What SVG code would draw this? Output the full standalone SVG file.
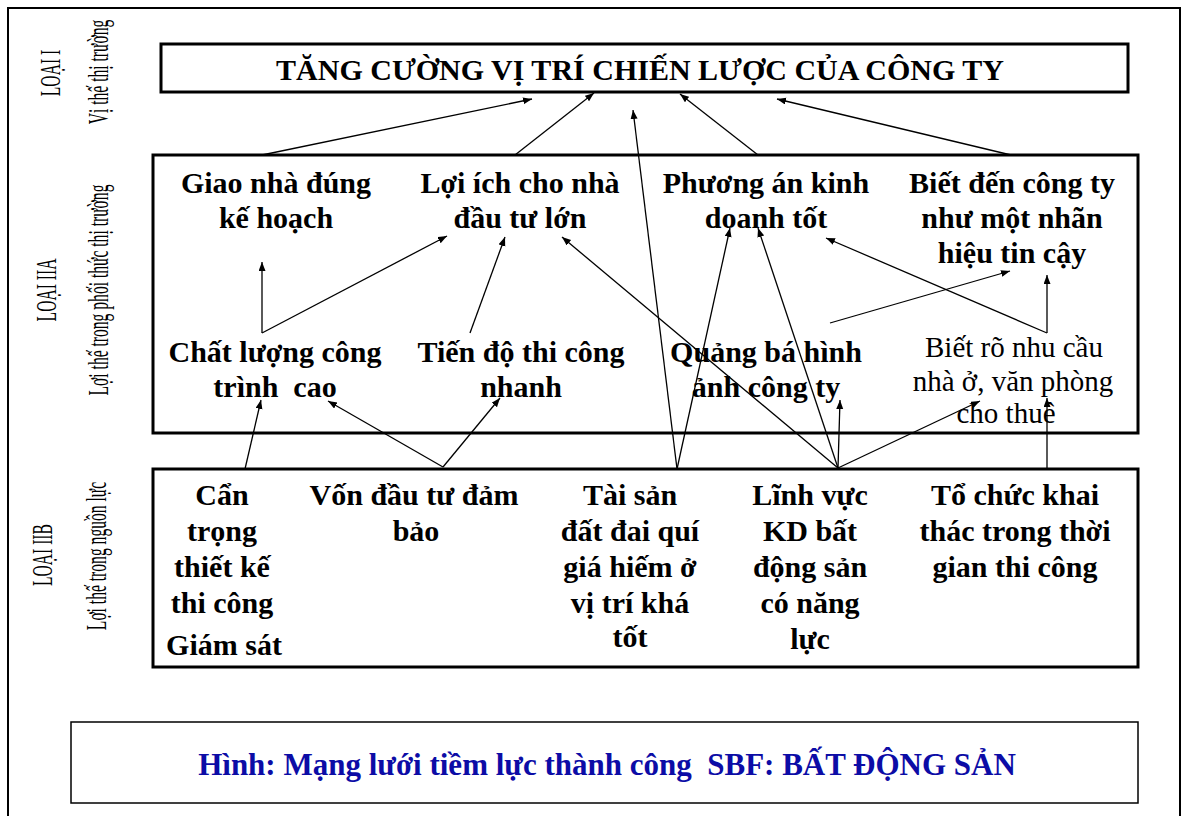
<svg xmlns="http://www.w3.org/2000/svg" width="1185" height="816" viewBox="0 0 1185 816">
  <style>
    .frame { fill: none; stroke: #000; stroke-width: 2; }
    .box { fill: #fff; stroke: #000; stroke-width: 3; }
    .cap-box { fill: #fff; stroke: #000; stroke-width: 1.5; }
    .t { font-family: "Liberation Serif", "Times New Roman", serif; fill: #000; text-anchor: middle; }
    .b { font-weight: bold; font-size: 30px; }
    .r { font-size: 29px; }
    .title { font-size: 30px; font-weight: bold; }
    .side { font-size: 30px; }
    .caption { font-weight: bold; font-size: 31px; fill: #0c0ca6; }
    .conn line { stroke: #000; stroke-width: 1.3; marker-end: url(#arr); }
  </style>
  <defs>
    <marker id="arr" markerUnits="userSpaceOnUse" markerWidth="10" markerHeight="8" refX="9" refY="3.5" orient="auto">
      <path d="M0,0 L9,3.5 L0,7 z" fill="#000"/>
    </marker>
  </defs>

  <rect width="1185" height="816" fill="#fff"/>
  <!-- outer frame, open at the bottom -->
  <path class="frame" d="M8,817 L8,8 L1180,8 L1180,817"/>

  <!-- side labels for the three levels (condensed, read bottom to top) -->
  <g id="labels">
    <text class="t side" transform="translate(60,73) rotate(-90) scale(0.52,1)">LOẠI I</text>
    <text class="t side" transform="translate(108,72) rotate(-90) scale(0.52,1)">Vị thế thị trường</text>
    <text class="t side" transform="translate(56,290) rotate(-90) scale(0.52,1)">LOẠI IIA</text>
    <text class="t side" transform="translate(108,290) rotate(-90) scale(0.52,1)">Lợi thế trong phối thức thị trường</text>
    <text class="t side" transform="translate(52,555) rotate(-90) scale(0.52,1)">LOẠI IIB</text>
    <text class="t side" transform="translate(106,556) rotate(-90) scale(0.52,1)">Lợi thế trong nguồn lực</text>
  </g>

  <!-- level I -->
  <g id="goal">
    <rect class="box" x="161" y="44" width="967" height="48"/>
    <text class="t title" x="640" y="80">TĂNG CƯỜNG VỊ TRÍ CHIẾN LƯỢC CỦA CÔNG TY</text>
  </g>

  <!-- level IIA -->
  <g id="market">
    <rect class="box" x="153" y="155" width="985" height="278"/>
  </g>
  <g id="giao-nha">
    <text class="t b" x="276" y="193">Giao nhà đúng</text>
    <text class="t b" x="276" y="228">kế hoạch</text>
  </g>
  <g id="loi-ich">
    <text class="t b" x="520" y="193">Lợi ích cho nhà</text>
    <text class="t b" x="520" y="228">đầu tư lớn</text>
  </g>
  <g id="phuong-an">
    <text class="t b" x="766" y="193">Phương án kinh</text>
    <text class="t b" x="766" y="228">doanh tốt</text>
  </g>
  <g id="biet-den">
    <text class="t b" x="1012" y="193">Biết đến công ty</text>
    <text class="t b" x="1012" y="228">như một nhãn</text>
    <text class="t b" x="1012" y="263">hiệu tin cậy</text>
  </g>
  <g id="chat-luong">
    <text class="t b" x="275" y="362">Chất lượng công</text>
    <text class="t b" x="275" y="397" xml:space="preserve">trình  cao</text>
  </g>
  <g id="tien-do">
    <text class="t b" x="521" y="362">Tiến độ thi công</text>
    <text class="t b" x="521" y="397">nhanh</text>
  </g>
  <g id="quang-ba">
    <text class="t b" x="766" y="362">Quảng bá hình</text>
    <text class="t b" x="766" y="397">ảnh công ty</text>
  </g>
  <g id="biet-ro">
    <text class="t r" x="1014" y="357">Biết rõ nhu cầu</text>
    <text class="t r" x="1013" y="391">nhà ở, văn phòng</text>
    <text class="t r" x="1006" y="423">cho thuê</text>
  </g>

  <!-- level IIB -->
  <g id="resources">
    <rect class="box" x="153" y="469" width="985" height="198"/>
  </g>
  <g id="can-trong">
    <text class="t b" x="222" y="505">Cẩn</text>
    <text class="t b" x="222" y="541">trọng</text>
    <text class="t b" x="222" y="577">thiết kế</text>
    <text class="t b" x="222" y="613">thi công</text>
    <text class="t b" x="224" y="655">Giám sát</text>
  </g>
  <g id="von">
    <text class="t b" x="414" y="505">Vốn đầu tư đảm</text>
    <text class="t b" x="416" y="541">bảo</text>
  </g>
  <g id="tai-san">
    <text class="t b" x="630" y="505">Tài sản</text>
    <text class="t b" x="630" y="541">đất đai quí</text>
    <text class="t b" x="630" y="577">giá hiếm ở</text>
    <text class="t b" x="630" y="613">vị trí khá</text>
    <text class="t b" x="630" y="647">tốt</text>
  </g>
  <g id="linh-vuc">
    <text class="t b" x="810" y="505">Lĩnh vực</text>
    <text class="t b" x="810" y="541">KD bất</text>
    <text class="t b" x="810" y="577">động sản</text>
    <text class="t b" x="810" y="613">có năng</text>
    <text class="t b" x="810" y="649">lực</text>
  </g>
  <g id="to-chuc">
    <text class="t b" x="1015" y="505">Tổ chức khai</text>
    <text class="t b" x="1015" y="541">thác trong thời</text>
    <text class="t b" x="1015" y="577">gian thi công</text>
  </g>

  <!-- caption -->
  <g id="caption">
    <rect class="cap-box" x="71" y="722" width="1067" height="81"/>
    <text class="t caption" x="607" y="775" xml:space="preserve">Hình: Mạng lưới tiềm lực thành công  SBF: BẤT ĐỘNG SẢN</text>
  </g>

  <!-- connectors -->
  <g id="connectors" class="conn">
    <line x1="262" y1="155" x2="532" y2="99"/>
    <line x1="515" y1="155" x2="594" y2="93"/>
    <line x1="677" y1="469" x2="633" y2="110"/>
    <line x1="758" y1="155" x2="680" y2="94"/>
    <line x1="1011" y1="155" x2="777" y2="99"/>
    <line x1="262" y1="333" x2="262" y2="262"/>
    <line x1="262" y1="333" x2="447" y2="236"/>
    <line x1="470" y1="333" x2="505" y2="237"/>
    <line x1="838" y1="468" x2="562" y2="237"/>
    <line x1="677" y1="469" x2="730" y2="228"/>
    <line x1="838" y1="468" x2="758" y2="228"/>
    <line x1="838" y1="468" x2="840" y2="400"/>
    <line x1="838" y1="468" x2="980" y2="401"/>
    <line x1="1047" y1="333" x2="1047" y2="275"/>
    <line x1="1047" y1="333" x2="826" y2="238"/>
    <line x1="830" y1="323" x2="1010" y2="271"/>
    <line x1="1047" y1="469" x2="1047" y2="398"/>
    <line x1="443" y1="467" x2="500" y2="398"/>
    <line x1="443" y1="467" x2="328" y2="401"/>
    <line x1="245" y1="469" x2="261" y2="400"/>
  </g>
</svg>
